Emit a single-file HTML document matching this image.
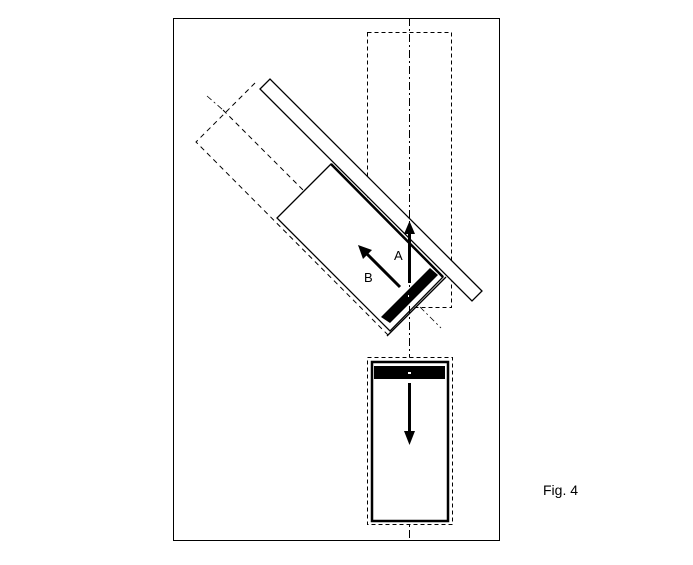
<!DOCTYPE html>
<html><head><style>html,body{margin:0;padding:0;background:#fff}svg{display:block}</style></head>
<body>
<svg width="693" height="565" viewBox="0 0 693 565" xmlns="http://www.w3.org/2000/svg">
<rect x="0" y="0" width="693" height="565" fill="#fff"/>
<rect x="173.5" y="18.5" width="326" height="522" fill="none" stroke="#000" stroke-width="1"/>
<!-- vertical dashed rect -->
<rect x="367.5" y="32.5" width="84" height="275" fill="none" stroke="#000" stroke-width="1" stroke-dasharray="4,3"/>
<!-- dashed rotated shadow -->
<polyline points="255,83 196,142 390,337" fill="none" stroke="#000" stroke-dasharray="5,4"/>
<line x1="223" y1="110" x2="303" y2="190" stroke="#000" stroke-dasharray="5,4"/>
<line x1="207" y1="96" x2="223" y2="110" stroke="#000" stroke-dasharray="6,3,2,3" stroke-width="0.8"/>
<line x1="420" y1="307" x2="441" y2="328" stroke="#000" stroke-dasharray="6,3,2,3" stroke-width="0.8"/>
<!-- long bar -->
<polygon points="260,89 270,79 482,291 472,301" fill="#fff" stroke="#000" stroke-width="1.3"/>
<!-- solid box -->
<polygon points="331,164 277,218 390,331 443,277" fill="#fff" stroke="#000" stroke-width="1.3"/>
<line x1="331" y1="164" x2="443" y2="277" stroke="#000" stroke-width="2.5"/>
<line x1="387" y1="336" x2="446" y2="277" stroke="#000" stroke-width="1.3"/>
<polygon points="381,317 430,268 438,275 390,323" fill="#000"/>
<rect x="408" y="295" width="2" height="2" fill="#fff"/>
<!-- centerline -->
<line x1="409.5" y1="18" x2="409.5" y2="540" stroke="#000" stroke-width="1" stroke-dasharray="8,3,2,3"/>
<!-- arrow A -->
<line x1="409.5" y1="283" x2="409.5" y2="232" stroke="#000" stroke-width="3"/>
<polygon points="409.5,221 404,234 415,234" fill="#000"/>
<!-- arrow B -->
<line x1="400" y1="287" x2="366" y2="253" stroke="#000" stroke-width="3"/>
<polygon points="358,245 372,250 363,259" fill="#000"/>
<text x="394" y="260" font-family="Liberation Sans, sans-serif" font-size="13">A</text>
<text x="364" y="282" font-family="Liberation Sans, sans-serif" font-size="13">B</text>
<!-- bottom box -->
<rect x="367.5" y="357.5" width="85" height="167" fill="#fff" stroke="#000" stroke-dasharray="4,3"/>
<rect x="372" y="362" width="76" height="159" fill="none" stroke="#000" stroke-width="2.5"/>
<rect x="374" y="366" width="71" height="13" fill="#000"/>
<rect x="408" y="372" width="3" height="2" fill="#fff"/>
<line x1="409.5" y1="383" x2="409.5" y2="434" stroke="#000" stroke-width="3"/>
<polygon points="409.5,445 404,431 415,431" fill="#000"/>
<text x="543" y="495" font-family="Liberation Sans, sans-serif" font-size="14">Fig. 4</text>
</svg>
</body></html>
